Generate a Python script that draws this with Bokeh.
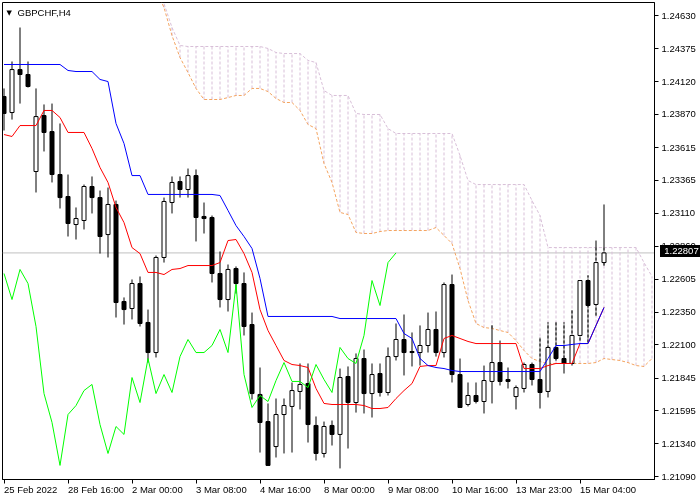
from bokeh.plotting import figure
from bokeh.models import (Range1d, FixedTicker, PrintfTickFormatter, Label, Span,
                          CustomJSTickFormatter, Div)
from bokeh.embed import file_html
from bokeh.resources import INLINE

symbol_title = "GBPCHF,H4"
last_price = 1.22807

opens = [1.24008, 1.23885, 1.24215, 1.24177, 1.23432, 1.23862, 1.23739, 1.23409, 1.23240, 1.23025,
         1.23056, 1.23317, 1.23232, 1.22948, 1.23179, 1.22434, 1.22380, 1.22572, 1.22273, 1.22042,
         1.22772, 1.23194, 1.23355, 1.23294, 1.23401, 1.23087, 1.23079, 1.22649, 1.22449, 1.22687,
         1.22572, 1.22257, 1.21720, 1.21512, 1.21320, 1.21566, 1.21628, 1.21743, 1.21804, 1.21482,
         1.21267, 1.21482, 1.21413, 1.21858, 1.21658, 1.21996, 1.21727, 1.21881, 1.21735, 1.22011,
         1.22142, 1.22050, 1.22042, 1.22096, 1.22219, 1.22042, 1.22564, 1.21873, 1.21643, 1.21712,
         1.21666, 1.21820, 1.21965, 1.21835, 1.21704, 1.21766, 1.21950, 1.21835, 1.21743, 1.22081,
         1.21996, 1.21958, 1.22173, 1.22595, 1.22411, 1.22733]
highs = [1.24070, 1.24277, 1.24538, 1.24277, 1.24070, 1.23947, 1.23954, 1.23801, 1.23409, 1.23156,
         1.23332, 1.23394, 1.23286, 1.23309, 1.23209, 1.22465, 1.22603, 1.22626, 1.22372, 1.22787,
         1.23232, 1.23394, 1.23394, 1.23455, 1.23448, 1.23194, 1.23094, 1.22818, 1.22718, 1.22703,
         1.22657, 1.22349, 1.21927, 1.21651, 1.21689, 1.21689, 1.21812, 1.21958, 1.21958, 1.21551,
         1.21512, 1.21520, 1.21919, 1.21935, 1.22035, 1.22065, 1.21958, 1.21958, 1.22081, 1.22265,
         1.22334, 1.22196, 1.22250, 1.22349, 1.22357, 1.22580, 1.22641, 1.21996, 1.21812, 1.21812,
         1.21942, 1.22250, 1.22134, 1.21927, 1.21789, 1.21965, 1.21965, 1.22157, 1.22273, 1.22273,
         1.22273, 1.22365, 1.22595, 1.22634, 1.22902, 1.23179]
lows = [1.23747, 1.23831, 1.23954, 1.24077, 1.23271, 1.23586, 1.23348, 1.23148, 1.22933, 1.22910,
        1.22987, 1.23110, 1.22802, 1.22772, 1.22311, 1.22257, 1.22296, 1.22242, 1.21965, 1.22004,
        1.22733, 1.23110, 1.23232, 1.23232, 1.22895, 1.22956, 1.22580, 1.22388, 1.22357, 1.22495,
        1.22173, 1.21681, 1.21274, 1.21175, 1.21236, 1.21267, 1.21274, 1.21605, 1.21351, 1.21213,
        1.21236, 1.21328, 1.21152, 1.21305, 1.21581, 1.21574, 1.21543, 1.21704, 1.21712, 1.21981,
        1.21866, 1.21935, 1.21942, 1.22042, 1.22011, 1.22004, 1.21812, 1.21620, 1.21628, 1.21651,
        1.21574, 1.21651, 1.21789, 1.21766, 1.21605, 1.21735, 1.21789, 1.21612, 1.21697, 1.21981,
        1.21881, 1.21942, 1.22134, 1.22119, 1.22326, 1.22710]
closes = [1.23878, 1.24215, 1.24177, 1.24085, 1.23854, 1.23732, 1.23409, 1.23232, 1.23033, 1.23071,
          1.23317, 1.23232, 1.22933, 1.23179, 1.22426, 1.22372, 1.22572, 1.22265, 1.22042, 1.22772,
          1.23202, 1.23348, 1.23294, 1.23401, 1.23079, 1.23071, 1.22649, 1.22449, 1.22680, 1.22572,
          1.22242, 1.21727, 1.21505, 1.21175, 1.21566, 1.21635, 1.21750, 1.21797, 1.21489, 1.21267,
          1.21474, 1.21413, 1.21850, 1.21658, 1.21996, 1.21727, 1.21873, 1.21735, 1.22011, 1.22142,
          1.22042, 1.22042, 1.22096, 1.22219, 1.22042, 1.22564, 1.21873, 1.21620, 1.21712, 1.21666,
          1.21827, 1.21965, 1.21820, 1.21820, 1.21773, 1.21950, 1.21835, 1.21735, 1.22081, 1.21996,
          1.21958, 1.22173, 1.22595, 1.22403, 1.22733, 1.22807]

tenkan = [1.23716, 1.23701, 1.23785, 1.23785, 1.23785, 1.23901, 1.23901, 1.23847, 1.23732, 1.23732,
          1.23732, 1.23609, 1.23463, 1.23348, 1.23156, 1.23040, 1.22848, 1.22802, 1.22657, 1.22657,
          1.22641, 1.22680, 1.22687, 1.22710, 1.22710, 1.22710, 1.22710, 1.22733, 1.22902, 1.22910,
          1.22802, 1.22657, 1.22372, 1.22211, 1.22096, 1.21981, 1.21950, 1.21942, 1.21927, 1.21766,
          1.21651, 1.21643, 1.21643, 1.21643, 1.21643, 1.21635, 1.21612, 1.21612, 1.21620, 1.21689,
          1.21750, 1.21804, 1.21935, 1.21942, 1.21942, 1.22150, 1.22173, 1.22150, 1.22127, 1.22111,
          1.22111, 1.22111, 1.22111, 1.22111, 1.22111, 1.21919, 1.21919, 1.21919, 1.21942, 1.21958,
          1.21958, 1.21958, 1.22111, 1.22111, 1.22250, 1.22388]
kijun = [1.24254, 1.24254, 1.24254, 1.24254, 1.24254, 1.24254, 1.24254, 1.24254, 1.24208, 1.24200,
         1.24200, 1.24200, 1.24139, 1.24123, 1.23801, 1.23647, 1.23401, 1.23401, 1.23256, 1.23256,
         1.23256, 1.23256, 1.23256, 1.23256, 1.23256, 1.23256, 1.23256, 1.23248, 1.23133, 1.23017,
         1.22933, 1.22841, 1.22611, 1.22319, 1.22319, 1.22319, 1.22319, 1.22319, 1.22319, 1.22319,
         1.22319, 1.22319, 1.22303, 1.22303, 1.22303, 1.22303, 1.22303, 1.22303, 1.22303, 1.22303,
         1.22188, 1.22150, 1.21996, 1.21942, 1.21927, 1.21919, 1.21904, 1.21896, 1.21896, 1.21896,
         1.21896, 1.21896, 1.21896, 1.21896, 1.21896, 1.21896, 1.21896, 1.21896, 1.21996, 1.22096,
         1.22096, 1.22104, 1.22111, 1.22111, 1.22250, 1.22388]

# Senkou spans (cloud): first visible bar index = span_start, running 6 bars past the last candle
span_start = 19
span_a = [1.24822, 1.24691, 1.24476, 1.24307, 1.24192, 1.24070, 1.23985, 1.23985, 1.23985, 1.24000,
          1.24016, 1.24016, 1.24070, 1.24070, 1.24046, 1.23993, 1.23962, 1.23962, 1.23901, 1.23793,
          1.23762, 1.23494, 1.23348, 1.23118, 1.23102, 1.22964, 1.22956, 1.22956, 1.22971, 1.22979,
          1.22979, 1.22979, 1.22979, 1.22979, 1.22979, 1.23002, 1.22941, 1.22879, 1.22687, 1.22442,
          1.22265, 1.22234, 1.22227, 1.22211, 1.22196, 1.22134, 1.22058, 1.21996, 1.21973, 1.21958,
          1.21958, 1.21958, 1.21958, 1.21958, 1.21958, 1.21965, 1.21996, 1.21988, 1.21981, 1.21965,
          1.21942, 1.21935, 1.21996]
span_b = [1.24860, 1.24722, 1.24538, 1.24400, 1.24392, 1.24392, 1.24392, 1.24392, 1.24392, 1.24392,
          1.24392, 1.24392, 1.24392, 1.24392, 1.24377, 1.24346, 1.24338, 1.24338, 1.24338, 1.24285,
          1.24269, 1.24054, 1.24016, 1.24016, 1.24016, 1.23878, 1.23870, 1.23870, 1.23870, 1.23762,
          1.23724, 1.23724, 1.23724, 1.23724, 1.23724, 1.23724, 1.23724, 1.23724, 1.23555, 1.23363,
          1.23332, 1.23332, 1.23332, 1.23332, 1.23332, 1.23332, 1.23332, 1.23209, 1.23094, 1.22848,
          1.22848, 1.22848, 1.22848, 1.22848, 1.22848, 1.22848, 1.22848, 1.22848, 1.22848, 1.22848,
          1.22848, 1.22733, 1.22626]
chikou_shift = 26

y_ticks = [1.24630, 1.24375, 1.24120, 1.23870, 1.23615, 1.23365, 1.23110, 1.22860,
           1.22605, 1.22350, 1.22100, 1.21845, 1.21595, 1.21340, 1.21090]
x_tick_idx = [0, 8, 16, 24, 32, 40, 48, 56, 64, 72]
x_tick_labels = ["25 Feb 2022", "28 Feb 16:00", "2 Mar 00:00", "3 Mar 08:00", "4 Mar 16:00",
                 "8 Mar 00:00", "9 Mar 08:00", "10 Mar 16:00", "13 Mar 23:00", "15 Mar 04:00"]

FONT = "Liberation Sans"
FS_PX = 9.5
FS = "%.1fpx" % FS_PX
C_TENKAN = "#FF0000"
C_KIJUN = "#0000FF"
C_CHIKOU = "#00FF00"
C_SPAN_A = "#F4A460"
C_SPAN_B = "#D8BFD8"

n = len(closes)
idx = list(range(n))

PX_PER_BAR = 8
X0 = -0.1875
X1 = X0 + 652 / PX_PER_BAR
Y0, Y1 = 1.21067, 1.24730

p = figure(width=700, height=500, output_backend="svg", toolbar_location=None,
           x_range=Range1d(X0, X1), y_range=Range1d(Y0, Y1),
           y_axis_location="right",
           min_border_left=2, min_border_top=2, min_border_right=46, min_border_bottom=21)
p.styles = {"position": "fixed", "left": "0px", "top": "0px"}
p.background_fill_color = "white"
p.border_fill_color = "white"
p.outline_line_color = "black"
p.outline_line_width = 1
p.xgrid.visible = False
p.ygrid.visible = False

ya = p.yaxis[0]
ya.ticker = FixedTicker(ticks=y_ticks)
ya.formatter = PrintfTickFormatter(format="%.5f")
ya.major_tick_out = 4
ya.major_tick_in = 0
ya.minor_tick_line_color = None
ya.axis_line_color = "black"
ya.major_tick_line_color = "black"
ya.major_label_standoff = 3
ya.major_label_text_font = FONT
ya.major_label_text_font_size = FS
ya.major_label_text_color = "black"

# x axis: MT4 puts date labels left-aligned at their tick; labels are centred on
# (invisible) major ticks shifted by half the text width, real ticks are minor ticks.
CHAR_W = {" ": 278, ":": 278, "F": 611, "M": 833, "a": 556, "b": 556, "e": 556, "r": 333}
def text_width(s):
    return sum(CHAR_W.get(ch, 556) for ch in s) * FS_PX / 1000.0

label_pos = [i + text_width(s) / 2 / PX_PER_BAR for i, s in zip(x_tick_idx, x_tick_labels)]
xa = p.xaxis[0]
xa.ticker = FixedTicker(ticks=label_pos, minor_ticks=x_tick_idx)
xa.formatter = CustomJSTickFormatter(args=dict(pos=label_pos, labels=x_tick_labels), code="""
    let best = 0;
    for (let k = 0; k < pos.length; k++) {
        if (Math.abs(pos[k] - tick) < Math.abs(pos[best] - tick)) best = k;
    }
    return labels[best];
""")
xa.major_tick_out = 4
xa.major_tick_in = 0
xa.major_tick_line_color = None
xa.minor_tick_out = 4
xa.minor_tick_in = 0
xa.minor_tick_line_color = "black"
xa.axis_line_color = "black"
xa.major_label_standoff = 0
xa.major_label_text_font = FONT
xa.major_label_text_font_size = FS
xa.major_label_text_color = "black"

# current price line
bid = Span(location=last_price, dimension="width", line_color="#C0C0C0", line_width=1)
bid.level = "underlay"
p.add_layout(bid)

# Ichimoku cloud: hatch + span lines
hx = [span_start + k for k in range(len(span_a))]
p.segment(x0=hx, y0=span_a, x1=hx, y1=span_b, line_color=C_SPAN_B, line_width=1, line_dash="3 2")
p.line(hx, span_b, line_color=C_SPAN_B, line_width=1, line_dash="3 2")
p.line(hx, span_a, line_color=C_SPAN_A, line_width=1, line_dash="3 2")

# wicks
p.segment(x0=idx, y0=lows, x1=idx, y1=highs, line_color="black", line_width=1)

# wick parts inside the cloud look dotted
dx, dlo, dhi = [], [], []
for i in idx:
    k = i - span_start
    if 0 <= k < len(span_a):
        lo = max(lows[i], min(span_a[k], span_b[k]))
        hi = min(highs[i], max(span_a[k], span_b[k]))
        if hi > lo:
            dx.append(i)
            dlo.append(lo)
            dhi.append(hi)
p.segment(x0=dx, y0=dlo, x1=dx, y1=dhi, line_color="white", line_width=1)
p.segment(x0=dx, y0=dlo, x1=dx, y1=dhi, line_color="black", line_width=1, line_dash="3 2")

# bodies
tops = [max(o, c) for o, c in zip(opens, closes)]
bots = [min(o, c) for o, c in zip(opens, closes)]
fills = ["white" if c >= o else "black" for o, c in zip(opens, closes)]
p.vbar(x=idx, width=0.5, top=tops, bottom=bots, fill_color=fills, line_color="black", line_width=1)

# Ichimoku lines
p.line(idx, tenkan, line_color=C_TENKAN, line_width=1)
p.line(idx, kijun, line_color=C_KIJUN, line_width=1)
p.line([i - chikou_shift for i in range(chikou_shift, n)], closes[chikou_shift:],
       line_color=C_CHIKOU, line_width=1)

# symbol caption
p.add_layout(Label(x=X0, y=Y1, text="\u25BC", text_align="left", text_baseline="top",
                   x_offset=4, y_offset=-6, text_font="DejaVu Sans", text_font_size="7px",
                   text_color="black"))
p.add_layout(Label(x=X0, y=Y1, text=symbol_title, text_align="left", text_baseline="top",
                   x_offset=15, y_offset=-4, text_font=FONT, text_font_size=FS,
                   text_color="black"))

# current price tag drawn over the price scale
tag = Div(text="%.5f" % last_price, width=43, height=12,
          styles={"position": "fixed", "left": "655px", "top": "240px",
                  "background-color": "black", "color": "white",
                  "font-family": FONT, "font-size": FS, "line-height": "12px",
                  "text-align": "center", "overflow": "hidden", "z-index": "10"})

open("out.html", "w").write(file_html([p, tag], INLINE))
